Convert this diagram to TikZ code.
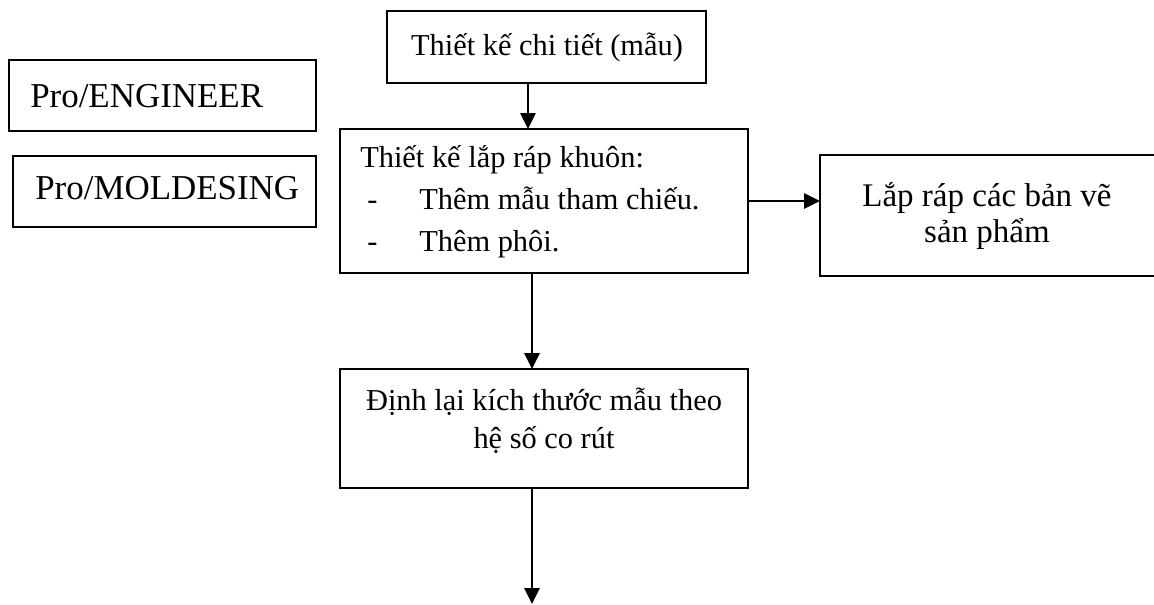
\documentclass[tikz,border=0pt]{standalone}
\usepackage{fontspec}
\setmainfont{Liberation Serif}
\usetikzlibrary{arrows.meta}
\begin{document}
\begin{tikzpicture}[x=0.75pt,y=-0.75pt,
  frame/.style={draw, line width=1.3pt, inner sep=0pt, outer sep=0pt},
  txt/.style={inner sep=0pt, anchor=base west, font=\fontsize{22.8}{27}\selectfont},
  ctxt/.style={inner sep=0pt, anchor=base, font=\fontsize{22.8}{27}\selectfont},
  bigtxt/.style={inner sep=0pt, anchor=base west, font=\fontsize{26.2}{30}\selectfont},
  midtxt/.style={inner sep=0pt, anchor=base, font=\fontsize{24.75}{30}\selectfont},
  arr/.style={line width=1.3pt, -{Triangle[length=12pt,width=11.5pt]}}]
\useasboundingbox (0,0) rectangle (1154,604);
\clip (0,0) rectangle (1154,604);
% frames
\node[frame, minimum width=230.25pt, minimum height=53.25pt] (pe) at (162.5,95.5) {};
\node[frame, minimum width=227.25pt, minimum height=53.25pt] (pm) at (164.5,191.5) {};
\node[frame, minimum width=239.25pt, minimum height=54pt] (b1) at (546.5,47) {};
\node[frame, minimum width=306pt, minimum height=108pt] (b2) at (544,201) {};
\node[frame, minimum width=306pt, minimum height=89.25pt] (b3) at (544,428.5) {};
\node[frame, minimum width=252pt, minimum height=90.75pt] (b4) at (988,215.5) {};
% texts
\node[bigtxt] (tpe) at (30,107) {Pro/ENGINEER};
\node[bigtxt] (tpm) at (35,199) {Pro/MOLDESING};
\node[ctxt] (t1) at (547,55) {Thiết kế chi tiết (mẫu)};
\node[txt] (t2a) at (360,167) {Thiết kế lắp ráp khuôn:};
\node[txt] (t2b) at (367,209) {-};
\node[txt] (t2c) at (419,209) {Thêm mẫu tham chiếu.};
\node[txt] (t2d) at (367,251) {-};
\node[txt] (t2e) at (419,251) {Thêm phôi.};
\node[ctxt] (t3a) at (544,410) {Định lại kích thước mẫu theo};
\node[ctxt] (t3b) at (544,448) {hệ số co rút};
\node[midtxt] (t4a) at (987,206) {Lắp ráp các bản vẽ};
\node[midtxt] (t4b) at (987,242) {sản phẩm};
% connectors
\coordinate (a1s) at ([xshift=-13.9pt]b1.south);
\draw[arr] (a1s) -- (a1s |- b2.north);
\draw[arr] (b2.east) -- (b2.east -| b4.west);
\coordinate (a3s) at ([xshift=-9pt]b2.south);
\draw[arr] (a3s) -- (a3s |- b3.north);
\coordinate (a4s) at ([xshift=-9pt]b3.south);
\coordinate (a4e) at (532,604);
\draw[arr] (a4s) -- (a4e);
\end{tikzpicture}
\end{document}
